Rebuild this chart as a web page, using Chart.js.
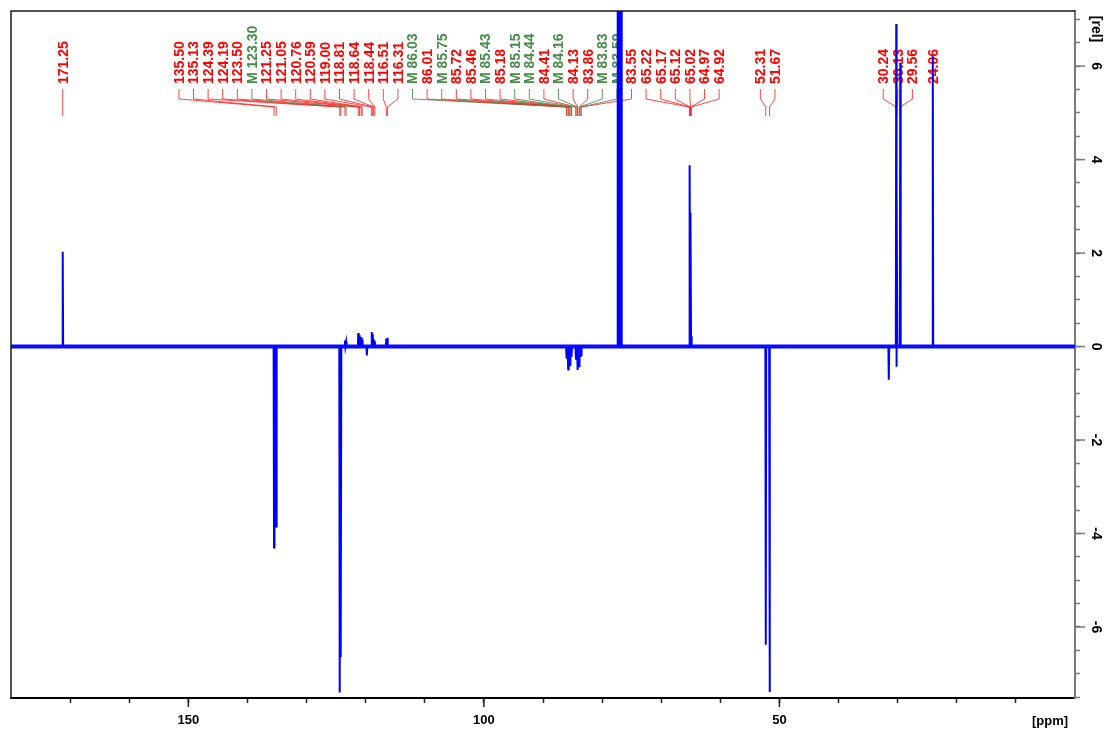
<!DOCTYPE html>
<html>
<head>
<meta charset="utf-8">
<title>13C DEPT spectrum</title>
<script src="https://cdn.jsdelivr.net/npm/chart.js@4.4.1/dist/chart.umd.min.js"></script>
<style>
  html, body { margin: 0; padding: 0; background: #fff; }
  #wrap { width: 1107px; height: 733px; }
</style>
</head>
<body>
<div id="wrap"><canvas id="spectrum" width="1107" height="733"></canvas></div>
<script>
// peaks: shift in ppm, intensity in [rel]
const peakShifts = [171.25, 135.50, 135.13, 124.39, 124.19, 123.50, 123.30, 121.25, 121.05,
  120.76, 120.59, 119.80, 119.00, 118.81, 118.64, 118.44, 116.51, 116.31,
  86.03, 86.01, 85.75, 85.72, 85.46, 85.43, 85.18, 85.15,
  84.44, 84.41, 84.16, 84.13, 83.86, 83.83, 83.59, 83.55,
  77.36, 77.04, 76.72,
  65.22, 65.17, 65.12, 65.02, 64.97, 64.92,
  52.31, 51.67, 31.50, 30.24, 30.20, 30.13, 29.56, 24.06];
const peakHeights = [2.03, -4.30, -3.85, -7.40, -6.65, 0.13, 0.10, 0.29, 0.24,
  0.20, 0.15, -0.19, 0.31, 0.27, 0.16, 0.12, 0.17, 0.19,
  -0.22, -0.26, -0.45, -0.49, -0.42, -0.39, -0.22, -0.18,
  -0.22, -0.26, -0.46, -0.50, -0.42, -0.39, -0.22, -0.18,
  40, 40, 40,
  3.88, 3.75, 2.87, 2.80, 0.30, 0.22,
  -6.38, -7.39, -0.71, 6.90, -0.43, 3.43, 6.07, 6.21];

// peak picking labels ("M" = multiplet-picked, drawn green)
const labelShifts = [171.25,
  135.50, 135.13, 124.39, 124.19, 123.50, 123.30, 121.25, 121.05, 120.76, 120.59,
  119.00, 118.81, 118.64, 118.44, 116.51, 116.31,
  86.03, 86.01, 85.75, 85.72, 85.46, 85.43, 85.18, 85.15,
  84.44, 84.41, 84.16, 84.13, 83.86, 83.83, 83.59, 83.55,
  65.22, 65.17, 65.12, 65.02, 64.97, 64.92,
  52.31, 51.67,
  30.24, 30.13, 29.56,
  24.06];
const labelMarked = [123.30, 86.03, 85.75, 85.43, 85.15, 84.44, 84.16, 83.83, 83.59];
const labelGroupSizes = [1, 38, 2, 3, 1];

// axis ticks
const xTickLabels = [150, 100, 50];
const yTickLabels = [6, 4, 2, 0, -2, -4, -6];

const xRange = [0, 180];
const yRange = [-7.52, 7.18];

// layout / style
const spikeHalfWidth = 0.07;          // ppm
const groupCenterPpm = [null, 105.9, null, null, null];
const labelPitch = 14.6;              // px between stacked labels
const FONT = "'Liberation Sans', Arial, sans-serif";
const RED = '#ff0000';
const GREEN = '#4a8a4a';

const xTicks = [];
for (let v = 10; v < xRange[1]; v += 10) xTicks.push(v);
const yTicks = [];
for (let v = -7.5; v <= 7.0; v += 0.5) yTicks.push(v);

// trace: every peak is a narrow spike on a flat baseline
const trace = [{ x: xRange[1], y: 0 }];
peakShifts.forEach((p, i) => {
  trace.push({ x: p + spikeHalfWidth, y: 0 }, { x: p, y: peakHeights[i] }, { x: p - spikeHalfWidth, y: 0 });
});
trace.push({ x: xRange[0], y: 0 });

const peakLabels = {
  id: 'peakLabels',
  beforeDatasetsDraw(chart) {
    const { ctx, chartArea: { top }, scales: { x } } = chart;
    const targets = labelShifts.map(v => x.getPixelForValue(v));
    const slots = [];
    let i0 = 0;
    labelGroupSizes.forEach((n, g) => {
      const t = targets.slice(i0, i0 + n);
      const c = groupCenterPpm[g] != null
        ? x.getPixelForValue(groupCenterPpm[g])
        : t.reduce((a, b) => a + b, 0) / n;
      for (let k = 0; k < n; k++) slots.push(c + (k - (n - 1) / 2) * labelPitch);
      i0 += n;
    });

    ctx.save();
    ctx.lineWidth = 1;
    labelShifts.forEach((v, i) => {
      const marked = labelMarked.includes(v);
      const col = marked ? GREEN : RED;
      ctx.strokeStyle = marked ? 'rgba(74,138,74,0.85)' : 'rgba(255,40,40,0.85)';
      ctx.beginPath();
      ctx.moveTo(slots[i], top + 78);
      ctx.lineTo(slots[i], top + 88);
      ctx.lineTo(targets[i], top + 96);
      ctx.lineTo(targets[i], top + 105);
      ctx.stroke();

      ctx.save();
      ctx.translate(slots[i], top + 73);
      ctx.rotate(-Math.PI / 2);
      ctx.fillStyle = col;
      ctx.font = 'bold 14px ' + FONT;
      ctx.textAlign = 'left';
      ctx.textBaseline = 'middle';
      ctx.fillText((marked ? 'M ' : '') + v.toFixed(2), 0, 1);
      ctx.restore();
    });
    ctx.restore();
  }
};

const axisDecor = {
  id: 'axisDecor',
  afterDraw(chart) {
    const { ctx, chartArea: { left, top, right, bottom }, scales: { x, y } } = chart;
    ctx.save();
    // frame on top and left
    ctx.strokeStyle = '#1a1a1a';
    ctx.lineWidth = 1.5;
    ctx.beginPath();
    ctx.moveTo(left, bottom);
    ctx.lineTo(left, top);
    ctx.lineTo(right, top);
    ctx.stroke();

    // longer major ticks
    ctx.strokeStyle = '#202020';
    ctx.lineWidth = 1.5;
    xTickLabels.forEach(v => {
      const px = x.getPixelForValue(v);
      ctx.beginPath();
      ctx.moveTo(px, bottom);
      ctx.lineTo(px, bottom + 9);
      ctx.stroke();
    });
    ctx.strokeStyle = '#7a7a7a';
    yTickLabels.forEach(v => {
      const py = y.getPixelForValue(v);
      ctx.beginPath();
      ctx.moveTo(right, py);
      ctx.lineTo(right + 10, py);
      ctx.stroke();
    });

    // rotated y labels
    ctx.fillStyle = '#000';
    ctx.font = 'bold 14px ' + FONT;
    ctx.textAlign = 'center';
    ctx.textBaseline = 'middle';
    const rot = (txt, px, py) => {
      ctx.save();
      ctx.translate(px, py);
      ctx.rotate(Math.PI / 2);
      ctx.fillText(txt, 0, 0);
      ctx.restore();
    };
    yTickLabels.forEach(v => rot(String(v), right + 21, y.getPixelForValue(v)));
    rot('[rel]', right + 21, top + 18);

    ctx.font = 'bold 13px ' + FONT;
    ctx.fillText('[ppm]', right - 25, bottom + 23);
    ctx.restore();
  }
};

new Chart(document.getElementById('spectrum'), {
  type: 'line',
  data: {
    datasets: [
      {
        label: 'noise floor',
        data: [{ x: xRange[1], y: 0 }, { x: xRange[0], y: 0 }],
        borderColor: '#0a0aff',
        borderWidth: 4,
        pointRadius: 0
      },
      {
        label: '13C',
        data: trace,
        borderColor: '#0000ff',
        borderWidth: 2,
        pointRadius: 0,
        tension: 0
      }
    ]
  },
  options: {
    responsive: false,
    animation: false,
    layout: { padding: { left: 11, top: 11, right: 0, bottom: 0 } },
    plugins: {
      legend: { display: false },
      tooltip: { enabled: false }
    },
    scales: {
      x: {
        type: 'linear',
        reverse: true,
        min: xRange[0],
        max: xRange[1],
        position: 'bottom',
        afterFit: s => { s.height = 35; },
        afterBuildTicks: s => { s.ticks = xTicks.map(v => ({ value: v })); },
        border: { color: '#000', width: 2 },
        grid: { drawOnChartArea: false, drawTicks: true, tickLength: 5, tickColor: '#202020', tickWidth: 1.5 },
        ticks: {
          autoSkip: false,
          maxRotation: 0,
          padding: 10,
          color: '#000',
          font: { family: FONT, size: 13, weight: 'bold' },
          callback: v => xTickLabels.includes(v) ? String(v) : ''
        }
      },
      y: {
        type: 'linear',
        position: 'right',
        min: yRange[0],
        max: yRange[1],
        afterFit: s => { s.width = 32; },
        afterBuildTicks: s => { s.ticks = yTicks.map(v => ({ value: v })); },
        border: { color: '#7a7a7a', width: 2 },
        grid: { drawOnChartArea: false, drawTicks: true, tickLength: 5, tickColor: '#7a7a7a', tickWidth: 1.5 },
        ticks: { display: false }
      }
    }
  },
  plugins: [peakLabels, axisDecor]
});
</script>
</body>
</html>
